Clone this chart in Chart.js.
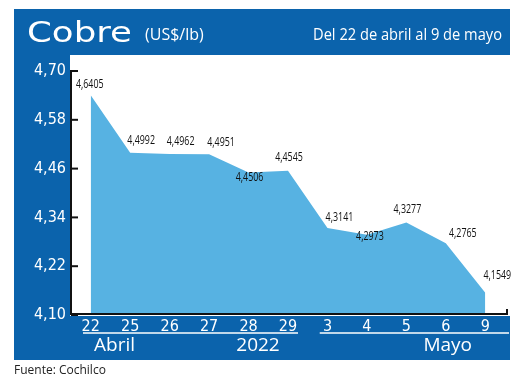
<!DOCTYPE html>
<html>
<head>
<meta charset="utf-8">
<script src="https://cdn.jsdelivr.net/npm/chart.js@4.4.1/dist/chart.umd.min.js"></script>
<style>
html,body{margin:0;padding:0;background:#fff;}
canvas{display:block;}
</style>
</head>
<body>
<canvas id="c" width="520" height="381"></canvas>
<script>
// ---- data ----
const categories = ['22','25','26','27','28','29','3','4','5','6','9'];
const prices = [4.6405, 4.4992, 4.4962, 4.4951, 4.4506, 4.4545, 4.3141, 4.2973, 4.3277, 4.2765, 4.1549];
const yTicks = [4.10, 4.22, 4.34, 4.46, 4.58, 4.70];
const monthGroups = ['Abril', 'Mayo'];
const monthStart = [0, 6];
const monthEnd = [5, 10];
const yearLabel = '2022';
const titleText = 'Cobre';
const unitText = '(US$/lb)';
const periodText = 'Del 22 de abril al 9 de mayo';
const sourceText = 'Fuente: Cochilco';

// ---- style ----
const BLUE = '#0b63ac';
const FILL = '#57b2e2';
const TICKFAM = "'DejaVu Sans', sans-serif";
const labelOffsets = [[-1,-11],[11,-12],[11,-12],[12,-12],[1,5],[1,-13],[12,-10],[3,2],[1,-13],[17,-10],[12,-17]];

const fmt = (v, d) => v.toFixed(d).replace('.', ',');

function condText(ctx, text, x, y, font, sx, align) {
  ctx.save();
  ctx.font = font;
  ctx.textAlign = align;
  ctx.translate(x, y);
  ctx.scale(sx, 1);
  ctx.fillText(text, 0, 0);
  ctx.restore();
}

const decor = {
  id: 'decor',
  beforeDraw(chart) {
    const ctx = chart.ctx;
    ctx.save();
    ctx.fillStyle = '#fff';
    ctx.fillRect(0, 0, 520, 381);
    ctx.fillStyle = BLUE;
    ctx.fillRect(14, 9, 496, 351);
    ctx.fillStyle = '#fff';
    ctx.fillRect(70, 55, 440, 261);
    // header
    ctx.fillStyle = '#fff';
    ctx.textBaseline = 'alphabetic';
    const tFont = "29px 'DejaVu Sans', sans-serif";
    ctx.font = tFont;
    const tw = ctx.measureText(titleText).width;
    condText(ctx, titleText, 27, 42, tFont, 105 / tw, 'left');
    ctx.textAlign = 'left';
    ctx.font = "16px 'Open Sans', sans-serif";
    ctx.fillText(unitText, 145, 40);
    ctx.font = "17px 'Open Sans', sans-serif";
    const pw = ctx.measureText(periodText).width;
    condText(ctx, periodText, 502, 40, ctx.font, 189 / pw, 'right');
    ctx.restore();
  },
  afterDraw(chart) {
    const ctx = chart.ctx;
    const xs = chart.scales.x, ys = chart.scales.y;
    ctx.save();
    // axes lines
    ctx.strokeStyle = '#111';
    ctx.lineWidth = 2;
    const yTop = ys.getPixelForValue(yTicks[yTicks.length - 1]) - 1;
    const yBot = ys.getPixelForValue(yTicks[0]) - 1;
    ctx.beginPath();
    ctx.moveTo(71, yTop);
    ctx.lineTo(71, yBot);
    ctx.lineTo(507, yBot);
    ctx.lineTo(507, yBot - 5);
    ctx.stroke();
    yTicks.forEach(v => {
      const py = ys.getPixelForValue(v);
      ctx.beginPath();
      ctx.moveTo(71, py);
      ctx.lineTo(78, py);
      ctx.stroke();
    });
    // data labels
    const meta = chart.getDatasetMeta(0);
    ctx.fillStyle = '#111';
    ctx.textBaseline = 'middle';
    meta.data.forEach((pt, i) => {
      const o = labelOffsets[i] || [0, -12];
      condText(ctx, fmt(prices[i], 4), pt.x + o[0], pt.y + o[1], "12px 'Open Sans', sans-serif", 0.74, 'center');
    });
    // month bands
    ctx.strokeStyle = '#fff';
    ctx.lineWidth = 1.5;
    ctx.fillStyle = '#fff';
    ctx.font = "19px 'Open Sans', sans-serif";
    ctx.textBaseline = 'middle';
    const half = (xs.getPixelForValue(1) - xs.getPixelForValue(0)) / 2;
    monthGroups.forEach((m, gi) => {
      const x0 = xs.getPixelForValue(monthStart[gi]) - half + 12;
      const x1 = gi === monthGroups.length - 1 ? 509 : xs.getPixelForValue(monthEnd[gi]) + 10;
      ctx.beginPath();
      ctx.moveTo(x0, 333);
      ctx.lineTo(x1, 333);
      ctx.stroke();
    });
    ctx.textAlign = 'left';
    ctx.fillText(monthGroups[0], 94, 346);
    ctx.textAlign = 'right';
    ctx.fillText(monthGroups[1], 472, 346);
    ctx.textAlign = 'center';
    ctx.fillText(yearLabel, 258, 346);
    // source
    ctx.fillStyle = '#222';
    ctx.font = "12px 'Open Sans', sans-serif";
    ctx.textAlign = 'left';
    ctx.fillText(sourceText, 14, 371);
    ctx.restore();
  }
};

new Chart(document.getElementById('c'), {
  type: 'line',
  data: {
    labels: categories,
    datasets: [{
      data: prices,
      fill: 'start',
      backgroundColor: FILL,
      borderWidth: 0,
      borderColor: FILL,
      pointRadius: 0,
      tension: 0
    }]
  },
  options: {
    responsive: false,
    animation: false,
    devicePixelRatio: 1,
    layout: { padding: { left: 14, right: 15, top: 71, bottom: 44 } },
    plugins: { legend: { display: false }, tooltip: { enabled: false } },
    scales: {
      x: {
        offset: true,
        grid: { display: false, drawTicks: false },
        border: { display: false },
        ticks: { color: '#fff', padding: 2, font: { family: TICKFAM, size: 16, weight: '400 condensed' }, maxRotation: 0, autoSkip: false },
        afterFit: s => { s.height = 22; }
      },
      y: {
        min: yTicks[0],
        max: yTicks[yTicks.length - 1],
        grid: { display: false, drawTicks: false },
        border: { display: false },
        afterBuildTicks: s => { s.ticks = yTicks.map(v => ({ value: v })); },
        ticks: { color: '#fff', padding: 5, font: { family: TICKFAM, size: 16, weight: '400 condensed' }, callback: v => fmt(v, 2) },
        afterFit: s => { s.width = 57; }
      }
    }
  },
  plugins: [decor]
});
</script>
</body>
</html>
